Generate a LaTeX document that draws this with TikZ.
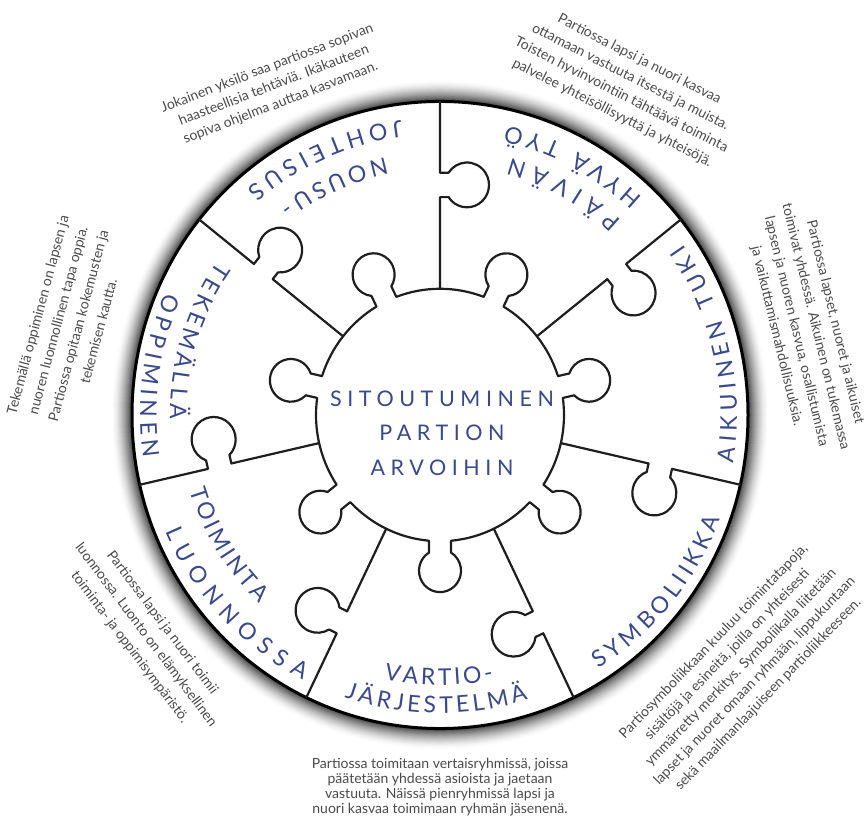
\documentclass[tikz,border=0pt]{standalone}
\usepackage{fontspec}
\setmainfont{Lato}
\newfontfamily\labelfont{Lato}
\newfontfamily\centerfont[LetterSpace=26]{Lato}
\usetikzlibrary{decorations.text}
\definecolor{labelblue}{RGB}{58,72,140}
\definecolor{desc}{RGB}{75,75,75}
\definecolor{linecol}{RGB}{30,30,30}
\newcommand\lblfmt{\labelfont\fontsize{23}{27}\selectfont\color{labelblue}}
\begin{document}
\begin{tikzpicture}[x=1pt,y=1pt,
  puzzle/.style={draw=linecol,line width=2.2pt,line join=round,line cap=round},
  desctext/.style={text=desc,align=center,inner sep=0pt},
  arclabel/.style={decorate,decoration={text along path,text align={fit to path},text={|\lblfmt|#1}}}
]
\useasboundingbox (0,0) rectangle (865,830);
\fill[white] (0,0) rectangle (865,830);

% ---- puzzle geometry ----
\begin{scope}[shift={(440,415)},yscale=1.018]
  \foreach \i in {20,19,...,1}{
    \pgfmathsetmacro\pc{78*(1-\i/21)^1.6}
    \fill[black!\pc] (0,0) circle (308+\i);
  }
  \fill[white] (0,0) circle (308);
  \draw[black,line width=3pt] (0,0) circle (308);

  % centre piece with seven knobs
  \draw[puzzle] (-95.089:124)
    \foreach \a in {-90,-38.5714,12.8571,64.2857,115.7143,167.1429,218.5714}{
      -- (\a-4.654:135.558)
      arc[start angle=\a-148.41,end angle=\a+148.41,radius=21]
      -- (\a+5.089:124)
      arc[start angle=\a+5.089,end angle=\a+46.3396,radius=124]
    } -- cycle;

  % seven dividing lines with knobs
  \foreach \t/\d in {-64.2857/226,-12.8571/226,38.5714/226,90/226,141.4286/226,192.8571/226,244.2857/226}{
    \pgfmathsetmacro\da{\d-12}
    \pgfmathsetmacro\db{\d+12}
    \pgfmathsetmacro\hx{\da*cos(\t)+8.561*cos(\t-90)}
    \pgfmathsetmacro\hy{\da*sin(\t)+8.561*sin(\t-90)}
    \draw[puzzle] (\t:124) -- (\t:\da) -- (\hx,\hy)
      arc[start angle=\t+123.06,end angle=\t+416.94,radius=22]
      -- (\t:\db) -- (\t:308);
  }
\end{scope}

% ---- curved sector labels ----
\begin{scope}[shift={(440,415)}]
  \path[arclabel={NOUSU-}] (102:263) arc[start angle=102,end angle=127.5,radius=263];
  \path[arclabel={JOHTEISUS}] (97.5:297) arc[start angle=97.5,end angle=130.5,radius=297];
  \path[arclabel={PÄIVÄN}] (47:266) arc[start angle=47,end angle=74.6,radius=266];
  \path[arclabel={HYVÄ TYÖ}] (47:297) arc[start angle=47,end angle=77,radius=297];
  \path[arclabel={AIKUINEN TUKI}] (-9.4:297) arc[start angle=-9.4,end angle=35,radius=297];
  \path[arclabel={SYMBOLIIKKA}] (-58:299) arc[start angle=-58,end angle=-20.3,radius=299];
  \path[arclabel={VARTIO-}] (-102:270) arc[start angle=-102,end angle=-78.5,radius=270];
  \path[arclabel={JÄRJESTELMÄ}] (-108.7:298) arc[start angle=-108.7,end angle=-72.8,radius=298];
  \path[arclabel={TOIMINTA}] (-163.3:261) arc[start angle=-163.3,end angle=-133.8,radius=261];
  \path[arclabel={LUONNOSSA}] (-157:298) arc[start angle=-157,end angle=-117.4,radius=298];
  \path[arclabel={TEKEMÄLLÄ}] (145.4:270) arc[start angle=145.4,end angle=180.8,radius=270];
  \path[arclabel={OPPIMINEN}] (156:300) arc[start angle=156,end angle=188.3,radius=300];
\end{scope}

% ---- centre text ----
\node[text=labelblue,align=center,font=\centerfont\fontsize{21.5}{34.5}\selectfont] (centre) at (442,397) {SITOUTUMINEN\\PARTION\\ARVOIHIN};

% ---- descriptions ----
\node[desctext,rotate=21,font=\fontsize{14}{18.7}\selectfont] (d1) at (274,744.2) {Jokainen yksilö saa partiossa sopivan\\haasteellisia tehtäviä. Ikäkauteen\\sopiva ohjelma auttaa kasvamaan.};
\node[desctext,rotate=-27,font=\fontsize{14}{20}\selectfont] (d2) at (625.8,743.8) {Partiossa lapsi ja nuori kasvaa\\ottamaan vastuuta itsestä ja muista.\\Toisten hyvinvointiin tähtäävä toiminta\\palvelee yhteisöllisyyttä ja yhteisöjä.};
\node[desctext,rotate=-76.5,font=\fontsize{14}{20}\selectfont] (d3) at (805.8,500.8) {Partiossa lapset, nuoret ja aikuiset\\toimivat yhdessä. Aikuinen on tukemassa\\lapsen ja nuoren kasvua, osallistumista\\ja vaikuttamismahdollisuuksia.};
\node[desctext,rotate=46,font=\fontsize{14}{19}\selectfont] (d4) at (741,162) {Partiosymboliikkaan kuuluu toimintatapoja,\\sisältöjä ja esineitä, joilla on yhteisesti\\ymmärretty merkitys. Symboliikalla liitetään\\lapset ja nuoret omaan ryhmään, lippukuntaan\\sekä maailmanlaajuiseen partioliikkeeseen.};
\node[desctext,font=\fontsize{14}{15}\selectfont] (d5) at (440,42.5) {Partiossa toimitaan vertaisryhmissä, joissa\\päätetään yhdessä asioista ja jaetaan\\vastuuta. Näissä pienryhmissä lapsi ja\\nuori kasvaa toimimaan ryhmän jäsenenä.};
\node[desctext,rotate=-53,font=\fontsize{14}{20.4}\selectfont] (d6) at (145.8,195) {Partiossa lapsi ja nuori toimii\\luonnossa. Luonto on elämyksellinen\\toiminta- ja oppimisympäristö.};
\node[desctext,rotate=75,font=\fontsize{14}{21}\selectfont] (d7) at (68,507) {Tekemällä oppiminen on lapsen ja\\nuoren luonnollinen tapa oppia.\\Partiossa opitaan kokemusten ja\\tekemisen kautta.};
\end{tikzpicture}
\end{document}
